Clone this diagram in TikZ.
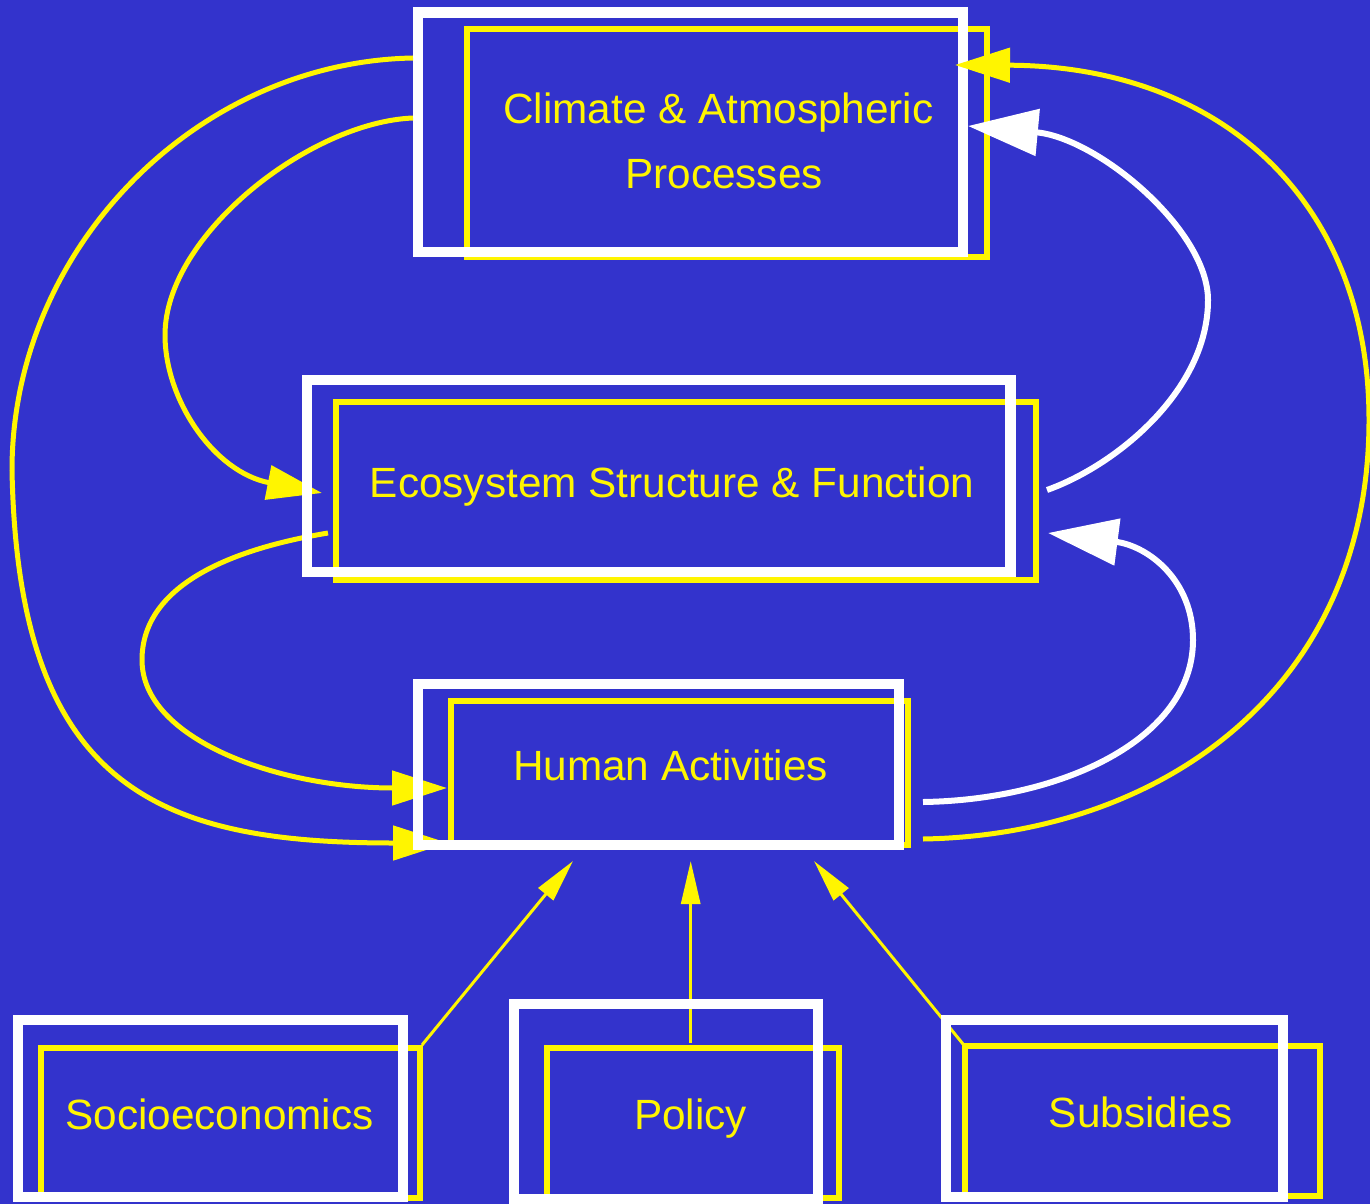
\documentclass[tikz,border=0pt]{standalone}
\usepackage{fontspec}
\setmainfont{Liberation Sans}
\usetikzlibrary{arrows.meta,calc}
\definecolor{bgblue}{HTML}{3333CC}
\definecolor{yel}{HTML}{FFF500}
\pgfdeclarelayer{bg}
\pgfdeclarelayer{low}
\pgfdeclarelayer{edges}
\pgfsetlayers{bg,low,edges,main}
\begin{document}
\begin{tikzpicture}[x=1pt,y=-1pt,
  wbox/.style={draw=white,line width=10.5pt,inner sep=0,outer sep=0,rectangle},
  ybox/.style={draw=yel,line width=6pt,inner sep=0,outer sep=0,rectangle},
  txt/.style={text=yel,font=\fontsize{42.3}{50}\selectfont,inner sep=0,anchor=base},
  ycon/.style={draw=yel,line width=5pt,-{Triangle[length=55pt,width=34pt]}},
  wcon/.style={draw=white,line width=6pt,-{Triangle[length=70pt,width=46pt]}},
  thin/.style={draw=yel,fill=yel,line width=3pt,-{Triangle[length=43pt,width=19pt]}}]
\begin{pgfonlayer}{bg}
\fill[bgblue] (0,0) rectangle (1370,1204);
\end{pgfonlayer}
\useasboundingbox (0,0) rectangle (1370,1204);

% Climate box (below connectors)
\begin{pgfonlayer}{low}
\node[ybox,minimum width=520pt,minimum height=228pt] (climY) at (727,143) {};
\node[wbox,minimum width=545pt,minimum height=239.5pt] (clim) at (690.5,132.25) {};
\end{pgfonlayer}
\node[txt] (climT1) at (718.5,124) {Climate \& Atmospheric};
\node[txt] (climT2) at (724,188) {Processes};

% Ecosystem
\node[ybox,minimum width=699.5pt,minimum height=178pt] (ecoY) at (685.75,491) {};
\node[wbox,minimum width=703.5pt,minimum height=192pt] (eco) at (658.75,476) {};
\node[txt] (ecoT) at (672,497) {Ecosystem Structure \& Function};

% Human activities
\node[ybox,minimum width=457pt,minimum height=144pt] (humY) at (679.5,773) {};
\node[wbox,minimum width=481pt,minimum height=161pt] (hum) at (658.5,764.5) {};
\node[txt] (humT) at (670.5,780) {Human Activities};

% Bottom boxes
\node[ybox,minimum width=379pt,minimum height=150pt] (socY) at (230.5,1123) {};
\node[wbox,minimum width=385pt,minimum height=177pt] (soc) at (210.5,1108.5) {};
\node[txt] (socT) at (219.5,1129) {Socioeconomics};

\node[ybox,minimum width=292pt,minimum height=150pt] (polY) at (693,1123) {};
\node[wbox,minimum width=304pt,minimum height=195pt] (pol) at (666,1101.5) {};
\node[txt] (polT) at (690.5,1129) {Policy};

\node[ybox,minimum width=355pt,minimum height=150pt] (subY) at (1142.5,1121) {};
\node[wbox,minimum width=337pt,minimum height=177pt] (sub) at (1114.5,1108.5) {};
\node[txt] (subT) at (1140.5,1127) {Subsidies};

\begin{pgfonlayer}{edges}
% Climate -> Human (outer left)
\draw[ycon] ($(clim.north west)+(-5,45.5)$) .. controls (195,62) and (12,250) .. (12,470)
  .. controls (18,790) and (160,843) .. ($(hum.south west)+(30,-2)$);
% Climate -> Ecosystem (inner left)
\draw[ycon] ($(clim.north west)+(-5,105.5)$) .. controls (310,122) and (165,235) .. (165,335)
  .. controls (165,400) and (214,472) .. ($(eco.north west)+(15,113)$);
% Ecosystem -> Human (left)
\draw[ycon] ($(eco.north west)+(21,153)$) .. controls (220,551) and (142,590) .. (142,660)
  .. controls (142,740) and (280,788) .. ($(hum.north west)+(29,104)$);
% Ecosystem -> Climate (white, right)
\draw[wcon] ($(eco.north east)+(36.5,110)$) .. controls (1117,465) and (1208,390) .. (1208,300)
  .. controls (1208,230) and (1098,138) .. ($(clim.north east)+(5,113.5)$);
% Human -> Ecosystem (white, right)
\draw[wcon] ($(hum.north east)+(24,118)$) .. controls (1060,800) and (1193,740) .. (1193,640)
  .. controls (1193,580) and (1148,546) .. ($(eco.north east)+(37.5,153)$);
% Human -> Climate (outer right)
\draw[ycon] ($(hum.north east)+(24,155)$) .. controls (1160,835) and (1369,690) .. (1369,420)
  .. controls (1369,200) and (1220,66) .. ($(clim.north east)+(-8,52.5)$);
% Bottom drivers
\draw[thin] ($(socY.north east)+(2,-3)$) -- ($(hum.south west)+(155,16)$);
\draw[thin] ($(polY.north)+(-2.3,-5)$) -- ($(hum.south west)+(272.7,16)$);
\draw[thin] ($(subY.north west)+(-2,-2)$) -- ($(hum.south west)+(396,16)$);
\end{pgfonlayer}
\end{tikzpicture}
\end{document}
